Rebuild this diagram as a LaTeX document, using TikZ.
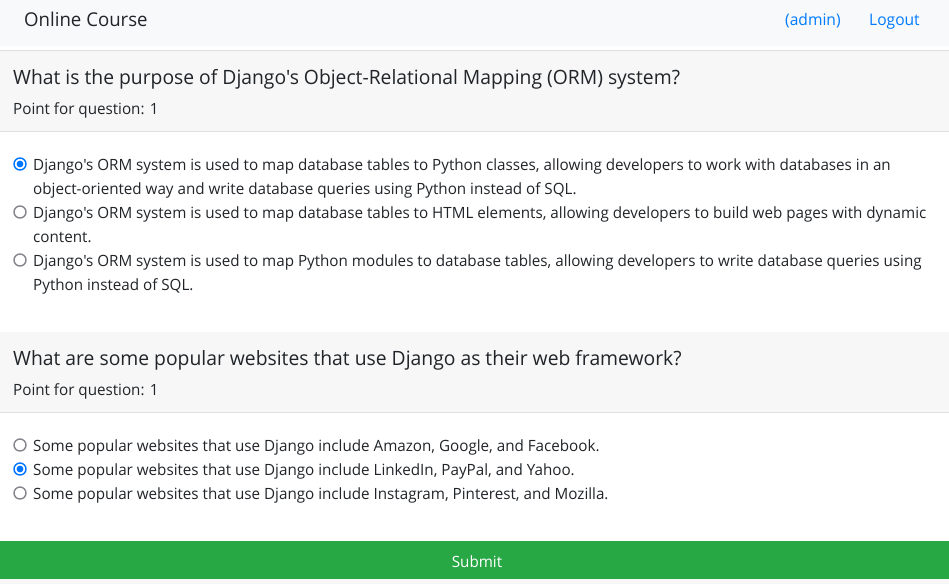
\documentclass[tikz,border=0pt]{standalone}
\usepackage{fontspec}
\setmainfont[FakeStretch=0.98, Ligatures=TeXOff]{Open Sans}
\definecolor{txt}{HTML}{212529}
\definecolor{navbg}{HTML}{F8F9FA}
\definecolor{hdrbg}{HTML}{F7F7F7}
\definecolor{brd}{HTML}{DFDFDF}
\definecolor{link}{HTML}{007BFF}
\definecolor{radioblue}{HTML}{0075FF}
\definecolor{radiogray}{HTML}{85858F}
\definecolor{btn}{HTML}{28A745}
\tikzset{
  body/.style={anchor=base west, inner sep=0pt, text=txt, font=\fontsize{15.5}{18}\selectfont},
  title/.style={anchor=base west, inner sep=0pt, text=txt, font=\fontsize{19.7}{22}\selectfont},
  navlink/.style={anchor=base west, inner sep=0pt, text=link, font=\fontsize{15.9}{18}\selectfont},
  rdoff/.style={circle, draw=radiogray, line width=1.4pt, fill=white, minimum size=12pt, inner sep=0pt},
  rdon/.style={circle, draw=radioblue, line width=1.4pt, fill=white, minimum size=12pt, inner sep=0pt,
    path picture={\fill[radioblue] (path picture bounding box.center) circle[radius=3.4pt];}},
}
\begin{document}
\begin{tikzpicture}[x=1pt,y=-1pt]
\useasboundingbox (0,0) rectangle (949,584);
\fill[white] (0,0) rectangle (949,584);
% navbar
\fill[navbg] (0,0) rectangle (949,46);
\node[anchor=base west, inner sep=0pt, text=txt, font=\fontsize{19}{22}\selectfont] (brand) at (24,26) {Online Course};
\node[navlink] (admin) at (785,25) {(admin)};
\node[navlink] (logout) at (869,25) {Logout};
% question 1 header
\fill[hdrbg] (0,50) rectangle (949,131);
\draw[brd, line width=1pt] (0,50.5) -- (949,50.5);
\draw[brd, line width=1pt] (0,131.5) -- (949,131.5);
\node[title] (q1) at (13,84) {What is the purpose of Django's Object-Relational Mapping (ORM) system?};
\node[body] (q1p) at (13,114) {Point for question: 1};
% question 1 options
\node[rdon] (r11) at (20,164) {};
\node[body] (o11a) at (33,170) {Django's ORM system is used to map database tables to Python classes, allowing developers to work with databases in an};
\node[body] (o11b) at (33,194) {object-oriented way and write database queries using Python instead of SQL.};
\node[rdoff] (r12) at (20,212) {};
\node[body] (o12a) at (33,218) {Django's ORM system is used to map database tables to HTML elements, allowing developers to build web pages with dynamic};
\node[body] (o12b) at (33,242) {content.};
\node[rdoff] (r13) at (20,260) {};
\node[body] (o13a) at (33,266) {Django's ORM system is used to map Python modules to database tables, allowing developers to write database queries using};
\node[body] (o13b) at (33,290) {Python instead of SQL.};
% question 2 header
\fill[hdrbg] (0,332) rectangle (949,412);
\draw[brd, line width=1pt] (0,412.5) -- (949,412.5);
\node[title] (q2) at (13,365) {What are some popular websites that use Django as their web framework?};
\node[body] (q2p) at (13,395) {Point for question: 1};
% question 2 options
\node[rdoff] (r21) at (20,445) {};
\node[body] (o21) at (33,451) {Some popular websites that use Django include Amazon, Google, and Facebook.};
\node[rdon] (r22) at (20,469) {};
\node[body] (o22) at (33,475) {Some popular websites that use Django include LinkedIn, PayPal, and Yahoo.};
\node[rdoff] (r23) at (20,493) {};
\node[body] (o23) at (33,499) {Some popular websites that use Django include Instagram, Pinterest, and Mozilla.};
% submit button
\fill[btn] (0,541) rectangle (949,579);
\fill[hdrbg] (0,579) rectangle (949,584);
\node[anchor=base, inner sep=0pt, text=white, font=\fontsize{15.5}{18}\selectfont] (submit) at (477,567) {Submit};
\end{tikzpicture}
\end{document}
